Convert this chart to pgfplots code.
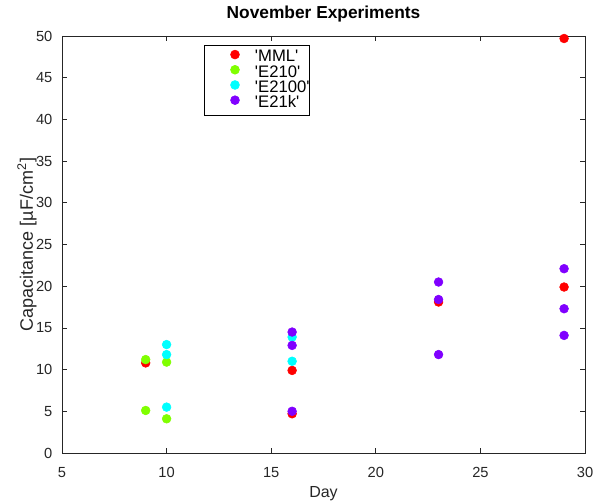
\documentclass[border=0pt]{standalone}
\usepackage{fontspec}
\setmainfont{Liberation Sans}
\usepackage{pgfplots}
\pgfplotsset{compat=1.18}
\definecolor{cMML}{rgb}{1,0,0}
\definecolor{cE210}{rgb}{0.5,1,0}
\definecolor{cE2100}{rgb}{0,1,1}
\definecolor{cE21k}{rgb}{0.5,0,1}
\definecolor{axgray}{rgb}{0.15,0.15,0.15}
\begin{document}
\begin{tikzpicture}
\begin{axis}[
  scale only axis,
  width=392.25pt, height=312.75pt,
  xmin=5, xmax=30, ymin=0, ymax=50,
  xtick={5,10,...,30}, ytick={0,5,...,50},
  tick align=inside,
  major tick length=3.5pt,
  tick style={axgray, line width=0.5pt},
  axis line style={axgray, line width=0.6pt},
  tick label style={font=\fontsize{11}{13}\selectfont, text=axgray},
  /pgf/number format/assume math mode=true,
  xticklabel style={anchor=base, yshift=-18.5pt},
  yticklabel style={anchor=east, inner xsep=0pt, xshift=-7pt},
  xlabel={Day},
  ylabel={Capacitance [µF/cm\textsuperscript{2}]},
  xlabel style={font=\fontsize{12}{14}\selectfont, text=axgray, at={(rel axis cs:0.5,-0.1071)}, anchor=base},
  ylabel style={font=\fontsize{13.5}{15}\selectfont, text=axgray, at={(rel axis cs:-0.0555,0.5)}, anchor=base},
  title={November Experiments},
  title style={font=\bfseries\fontsize{13}{15}\selectfont, at={(rel axis cs:0.5,1)}, anchor=base, yshift=7pt},
  legend style={at={(0.2715,0.978)}, anchor=north west, draw=black, line width=0.5pt,
    font=\fontsize{12.5}{13}\selectfont, row sep=0pt, column sep=0pt, inner xsep=0pt, inner ysep=3.5pt,
    nodes={text height=7.6pt, text depth=2.6pt, inner xsep=0pt, inner ysep=0pt}},
  legend cell align=left,
  legend image code/.code={\path[draw=none, fill=none] (0pt,0pt) -- (38pt,0pt); \draw[#1] plot coordinates {(23pt,3pt)};},
  every axis plot/.append style={only marks, mark=*, mark size=3.3pt},
]
\coordinate (ll) at (rel axis cs:0,0);
\coordinate (ur) at (rel axis cs:1,1);
\addplot[draw=cMML, fill=cMML] coordinates {(9,10.8) (16,9.9) (16,4.7) (23,18.1) (29,49.7) (29,19.9)};
\addlegendentry{\textquotesingle MML\textquotesingle}
\addplot[draw=cE210, fill=cE210] coordinates {(9,11.2) (9,5.1) (10,10.9) (10,4.1)};
\addlegendentry{\textquotesingle E210\textquotesingle}
\addplot[draw=cE2100, fill=cE2100] coordinates {(10,13.0) (10,11.8) (10,5.5) (16,13.9) (16,11.0)};
\addlegendentry{\textquotesingle E2100\textquotesingle\hspace{5pt}}
\addplot[draw=cE21k, fill=cE21k] coordinates {(16,14.5) (16,12.9) (16,5.0) (23,20.5) (23,18.4) (23,11.8) (29,22.1) (29,17.3) (29,14.1)};
\addlegendentry{\textquotesingle E21k\textquotesingle}
\end{axis}
\pgfresetboundingbox
\useasboundingbox ([shift={(-46.5pt,-38.25pt)}]ll) rectangle ([shift={(7.5pt,27pt)}]ur);
\end{tikzpicture}
\end{document}
